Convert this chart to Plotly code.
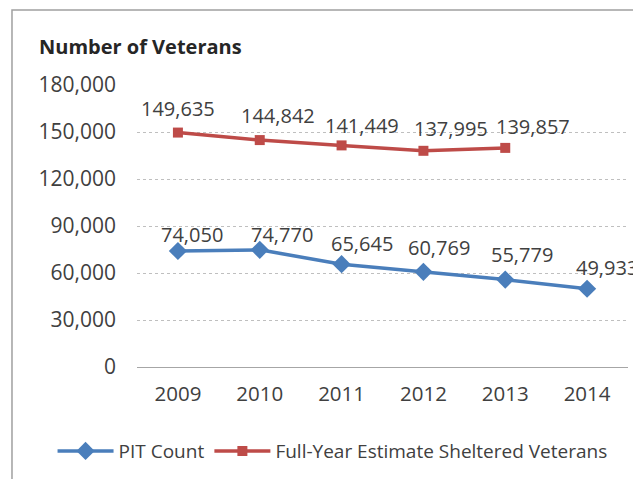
import plotly.graph_objects as go

years = [2009, 2010, 2011, 2012, 2013, 2014]
pit_count = [74050, 74770, 65645, 60769, 55779, 49933]
full_year_years = [2009, 2010, 2011, 2012, 2013]
full_year = [149635, 144842, 141449, 137995, 139857]
y_ticks = [0, 30000, 60000, 90000, 120000, 150000, 180000]

BLUE = "#4A7EBB"
RED = "#BE4B48"
TXT = "#404040"
FONT = "Open Sans"

# label offsets (pixels) relative to points
pit_dx = [14, 22, 20, 16, 17, 20]
pit_dy = [16, 15, 21, 24, 25, 21]
fy_dx = [0, 18, 20, 28, 28]
fy_dy = [24, 25, 20, 22, 21]

fig = go.Figure()
fig.add_trace(go.Scatter(
    x=years, y=pit_count, name="PIT Count", mode="lines+markers",
    line=dict(color=BLUE, width=3.5),
    marker=dict(symbol="diamond", size=14, color=BLUE),
))
fig.add_trace(go.Scatter(
    x=full_year_years, y=full_year, name="Full-Year Estimate Sheltered Veterans",
    mode="lines+markers",
    line=dict(color=RED, width=3.5),
    marker=dict(symbol="square", size=10, color=RED),
))

for xs, ys, dxs, dys in [(years, pit_count, pit_dx, pit_dy), (full_year_years, full_year, fy_dx, fy_dy)]:
    for xv, yv, dx, dy in zip(xs, ys, dxs, dys):
        fig.add_annotation(x=xv, y=yv, text=f"{yv:,}", showarrow=False,
                           xshift=dx, yshift=dy, xanchor="center", yanchor="middle",
                           font=dict(family=FONT, size=20, color=TXT))

fig.add_annotation(xref="paper", yref="paper", x=-0.2037, y=1.135, text="<b>Number of Veterans</b>",
                   showarrow=False, xanchor="left", yanchor="middle",
                   font=dict(family=FONT, size=20, color="#262626"))

# frame border
fig.add_shape(type="rect", xref="paper", yref="paper", x0=-0.2546, y0=-0.6, x1=1.3, y1=1.266,
              line=dict(color="#a0a0a0", width=1.5), fillcolor="rgba(0,0,0,0)", layer="below")

fig.update_layout(
    width=633, height=471,
    margin=dict(l=129, r=13, t=77, b=112, autoexpand=False),
    paper_bgcolor="white", plot_bgcolor="white",
    font=dict(family=FONT, color=TXT),
    showlegend=True,
    legend=dict(orientation="h", x=-0.172, xanchor="left", y=-0.298, yanchor="middle",
                font=dict(family=FONT, size=19, color=TXT), itemwidth=56,
                bgcolor="rgba(0,0,0,0)"),
    xaxis=dict(range=[min(years) - 0.5, max(years) + 0.5], tickvals=years, ticktext=[str(y) for y in years],
               showgrid=False, zeroline=False, showline=True, linecolor="#a6a6a6", linewidth=1.2,
               ticks="", tickfont=dict(family=FONT, size=20.5, color=TXT), ticklabelstandoff=8,
               fixedrange=True),
    yaxis=dict(range=[0, 180000], tickvals=y_ticks, tickformat=",", showgrid=True,
               gridcolor="#bfbfbf", griddash="dot", gridwidth=1, zeroline=False,
               showline=False, ticks="", tickfont=dict(family=FONT, size=21, color=TXT),
               ticklabelstandoff=20, fixedrange=True),
)

fig.write_html("out.html")
